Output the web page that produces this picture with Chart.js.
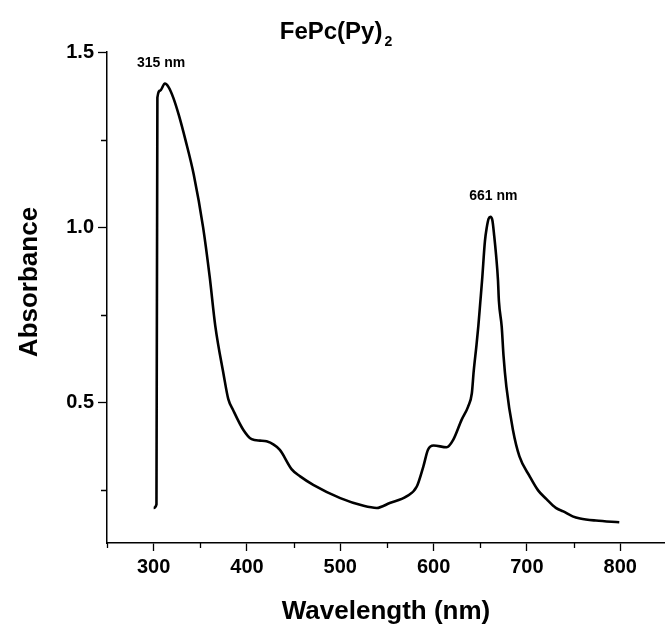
<!DOCTYPE html>
<html>
<head>
<meta charset="utf-8">
<script src="https://cdn.jsdelivr.net/npm/chart.js@4.4.1/dist/chart.umd.min.js"></script>
<style>
  html, body { margin: 0; padding: 0; background: #fff; }
  #wrap { width: 665px; height: 631px; position: relative; }
</style>
</head>
<body>
<div id="wrap"><canvas id="spectrum"></canvas></div>
<script>
// wavelength (nm) and absorbance
const wavelengths = [300, 303, 304, 307, 312, 316, 321, 327, 334, 343, 353, 360, 366, 375, 380, 385, 396, 405,
  414, 421, 435, 448, 457, 471, 500, 525, 539, 553, 571, 582, 589, 594, 600, 614, 621, 630, 637, 641, 643,
  646, 648, 650, 652, 655, 657, 659, 661, 663, 665, 667, 669, 670, 673, 675, 678, 685, 692, 703, 712, 721,
  731, 739, 749, 757, 774, 799];
const absorbance = [0.20, 0.21, 1.37, 1.39, 1.41, 1.40, 1.37, 1.32, 1.25, 1.15, 1.00, 0.86, 0.72, 0.58, 0.51,
  0.48, 0.423, 0.396, 0.392, 0.39, 0.366, 0.31, 0.29, 0.266, 0.228, 0.206, 0.20, 0.214, 0.233, 0.261, 0.318,
  0.366, 0.378, 0.373, 0.394, 0.451, 0.489, 0.527, 0.59, 0.665, 0.72, 0.785, 0.85, 0.96, 1.0, 1.025, 1.03,
  1.02, 0.975, 0.92, 0.85, 0.79, 0.717, 0.632, 0.546, 0.423, 0.347, 0.29, 0.25, 0.225, 0.20, 0.19, 0.176,
  0.17, 0.164, 0.159];

const xMajorTicks = [300, 400, 500, 600, 700, 800];
const xMinorTicks = [250, 350, 450, 550, 650, 750];
const yMajorTicks = [0.5, 1.0, 1.5];
const yMinorTicks = [0.25, 0.75, 1.25];

const peakLabels = ['315 nm', '661 nm'];
const peakAt = [[308, 1.468], [664, 1.089]];

const chartTitle = 'FePc(Py)';
const chartTitleSub = '2';
const xTitle = 'Wavelength (nm)';
const yTitle = 'Absorbance';

const FONT = "'Liberation Sans', Arial, sans-serif";

const textPlugin = {
  id: 'texts',
  afterDraw(chart) {
    const ctx = chart.ctx;
    const xs = chart.scales.x, ys = chart.scales.y;
    ctx.save();
    ctx.fillStyle = '#000';
    ctx.strokeStyle = '#000';
    ctx.lineWidth = 1.3;

    // minor ticks
    ctx.beginPath();
    xMinorTicks.forEach(v => {
      const px = Math.round(xs.getPixelForValue(v)) + 0.5;
      ctx.moveTo(px, ys.bottom);
      ctx.lineTo(px, ys.bottom + 5);
    });
    yMinorTicks.forEach(v => {
      const py = Math.round(ys.getPixelForValue(v)) + 0.5;
      ctx.moveTo(xs.left - 6, py);
      ctx.lineTo(xs.left, py);
    });
    ctx.stroke();

    // peak labels
    ctx.font = 'bold 14px ' + FONT;
    ctx.textAlign = 'center';
    ctx.textBaseline = 'middle';
    peakLabels.forEach((t, i) => {
      ctx.fillText(t, xs.getPixelForValue(peakAt[i][0]), ys.getPixelForValue(peakAt[i][1]));
    });

    // title with subscript
    ctx.font = 'bold 24px ' + FONT;
    const w1 = ctx.measureText(chartTitle).width;
    ctx.font = 'bold 14px ' + FONT;
    const w2 = ctx.measureText(chartTitleSub).width;
    const tx = 336 - (w1 + w2 + 2) / 2;
    ctx.textAlign = 'left';
    ctx.textBaseline = 'alphabetic';
    ctx.font = 'bold 24px ' + FONT;
    ctx.fillText(chartTitle, tx, 39);
    ctx.font = 'bold 14px ' + FONT;
    ctx.fillText(chartTitleSub, tx + w1 + 2, 46);

    // axis titles
    ctx.font = 'bold 26px ' + FONT;
    ctx.textAlign = 'center';
    ctx.fillText(xTitle, (xs.left + xs.right) / 2, 619);
    ctx.translate(37, 282);
    ctx.rotate(-Math.PI / 2);
    ctx.fillText(yTitle, 0, 0);
    ctx.restore();
  }
};

new Chart(document.getElementById('spectrum'), {
  type: 'line',
  data: {
    datasets: [{
      data: wavelengths.map((w, i) => ({ x: w, y: absorbance[i] })),
      borderColor: '#000',
      borderWidth: 2.6,
      pointRadius: 0,
      cubicInterpolationMode: 'monotone',
      fill: false
    }]
  },
  options: {
    responsive: true,
    maintainAspectRatio: false,
    animation: false,
    layout: { padding: { top: 52, right: 0, left: 0, bottom: 0 } },
    plugins: { legend: { display: false }, tooltip: { enabled: false }, title: { display: false } },
    scales: {
      x: {
        type: 'linear',
        min: 250,
        max: 848,
        afterBuildTicks: s => { s.ticks = xMajorTicks.map(v => ({ value: v })); },
        afterFit: s => { s.height = 88; },
        border: { display: true, color: '#000', width: 1.5 },
        grid: { drawOnChartArea: false, tickLength: 8, tickColor: '#000', tickWidth: 1.3 },
        ticks: {
          color: '#000',
          font: { family: FONT, size: 20, weight: 'bold' },
          padding: 4,
          maxRotation: 0,
          callback: v => String(v)
        }
      },
      y: {
        min: 0.1,
        max: 1.5,
        afterBuildTicks: s => { s.ticks = yMajorTicks.map(v => ({ value: v })); },
        afterFit: s => { s.width = 107; },
        border: { display: true, color: '#000', width: 1.5 },
        grid: { drawOnChartArea: false, tickLength: 9, tickColor: '#000', tickWidth: 1.3 },
        ticks: {
          color: '#000',
          font: { family: FONT, size: 20, weight: 'bold' },
          padding: 4,
          callback: v => v.toFixed(1)
        }
      }
    }
  },
  plugins: [textPlugin]
});
</script>
</body>
</html>
